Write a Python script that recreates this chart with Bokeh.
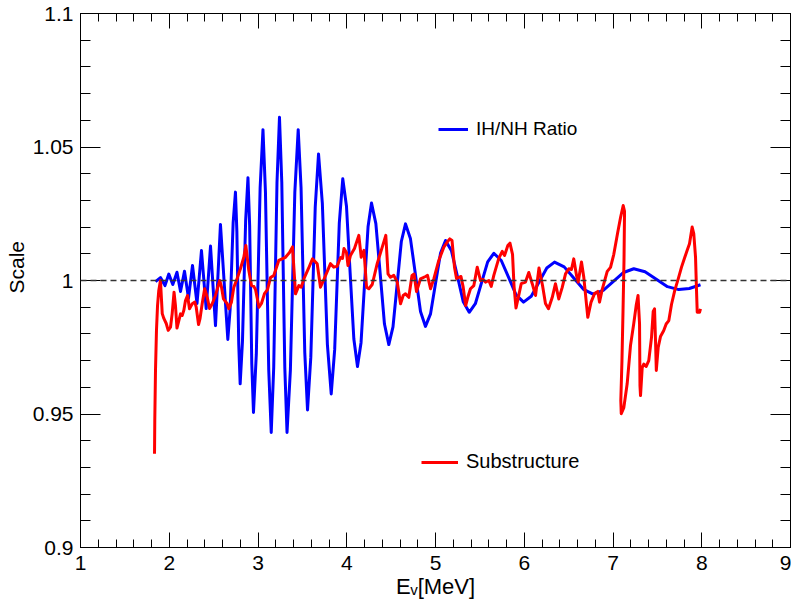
from bokeh.plotting import figure
from bokeh.models import FixedTicker, LinearAxis, Legend, LegendItem, Span, Range1d, Title
from bokeh.embed import file_html
from bokeh.resources import INLINE

# ---------------- data ----------------
blue_E = [1.845, 1.901, 1.952, 1.995, 2.040, 2.087, 2.127, 2.172, 2.217, 2.262,
          2.313, 2.363, 2.416, 2.465, 2.521, 2.577, 2.660, 2.686, 2.720, 2.746,
          2.762, 2.783, 2.799, 2.825, 2.861, 2.887, 2.906, 2.930, 2.949, 2.981,
          3.024, 3.056, 3.084, 3.121, 3.149, 3.177, 3.214, 3.242, 3.268, 3.302,
          3.327, 3.365, 3.415, 3.453, 3.485, 3.527, 3.558, 3.595, 3.645, 3.682,
          3.725, 3.782, 3.825, 3.864, 3.916, 3.955,
          3.997, 4.038, 4.080, 4.121, 4.161, 4.200, 4.240, 4.279, 4.328, 4.377,
          4.425, 4.474, 4.521, 4.568, 4.615, 4.662, 4.718, 4.775, 4.831, 4.887,
          4.944, 5.000, 5.057, 5.113, 5.180, 5.247, 5.313, 5.380, 5.449, 5.519,
          5.588, 5.657, 5.741, 5.825, 5.908, 5.992, 6.079, 6.167, 6.254, 6.341,
          6.450, 6.558, 6.667, 6.775, 6.890, 7.005, 7.119, 7.234, 7.361, 7.488,
          7.614, 7.741, 7.860, 7.986]
blue_ratio = [0.9996, 1.0011, 0.9981, 1.0024, 0.9985, 1.0031, 0.9959, 1.0035, 0.9933, 1.0056,
              0.9914, 1.0112, 0.9895, 1.0129, 0.9831, 1.0210, 0.9779, 0.9893, 1.0217, 1.0331,
              1.0183, 0.9761, 0.9613, 0.9772, 1.0226, 1.0385, 1.0204, 0.9687, 0.9506, 0.9724,
              1.0347, 1.0565, 1.0331, 0.9665, 0.9431, 0.9674, 1.0368, 1.0611, 1.0368, 0.9674,
              0.9431, 0.9665, 1.0331, 1.0565, 1.0349, 0.9731, 0.9515, 0.9713, 1.0276, 1.0474,
              1.0289, 0.9760, 0.9575, 0.9741, 1.0215, 1.0381,
              1.0278, 1.0030, 0.9781, 0.9678, 0.9767, 0.9984, 1.0201, 1.0290, 1.0213, 1.0025,
              0.9837, 0.9760, 0.9826, 0.9986, 1.0146, 1.0212, 1.0156, 1.0020, 0.9884, 0.9828,
              0.9875, 0.9989, 1.0103, 1.0150, 1.0111, 1.0016, 0.9920, 0.9881, 0.9913, 0.9992,
              1.0070, 1.0102, 1.0075, 1.0011, 0.9946, 0.9919, 0.9941, 0.9994, 1.0047, 1.0069,
              1.0051, 1.0009, 0.9967, 0.9949, 0.9963, 0.9997, 1.0030, 1.0044, 1.0033, 1.0005,
              0.9977, 0.9966, 0.9970, 0.9984]

red_E = [1.834, 1.837, 1.845, 1.856, 1.868, 1.882, 1.901, 1.921, 1.939, 1.966,
         1.988, 2.014, 2.033, 2.054, 2.070, 2.087, 2.108, 2.127, 2.146, 2.164,
         2.183, 2.206, 2.228, 2.259, 2.288, 2.304, 2.330, 2.346, 2.371, 2.399,
         2.428, 2.454, 2.484, 2.521, 2.569, 2.589, 2.611, 2.653, 2.671, 2.701,
         2.727, 2.766, 2.803, 2.840, 2.863, 2.896, 2.927, 2.953, 2.972, 3.011,
         3.039, 3.073, 3.107, 3.141, 3.178, 3.234, 3.310, 3.355, 3.389, 3.423,
         3.460, 3.487, 3.524, 3.569, 3.614, 3.667, 3.704, 3.738, 3.817, 3.854,
         3.890, 3.930, 3.952, 3.969, 3.997, 4.014, 4.042, 4.087, 4.136, 4.163,
         4.194, 4.223, 4.249, 4.287, 4.343, 4.399, 4.440, 4.465, 4.493, 4.530,
         4.569, 4.606, 4.636, 4.662, 4.699, 4.735, 4.758, 4.786, 4.831, 4.887,
         4.910, 4.944, 4.981, 5.037, 5.094, 5.132, 5.161, 5.186, 5.214, 5.237,
         5.263, 5.287, 5.312, 5.340, 5.364, 5.394, 5.432, 5.470, 5.507, 5.535,
         5.563, 5.601, 5.628, 5.657, 5.713, 5.752, 5.778, 5.815, 5.839, 5.868,
         5.885, 5.907, 5.933, 5.966, 6.014, 6.051, 6.090, 6.127, 6.166, 6.206,
         6.239, 6.273, 6.315, 6.352, 6.389, 6.428, 6.465, 6.502, 6.532, 6.558,
         6.589, 6.608, 6.645, 6.671, 6.716, 6.752, 6.792, 6.829, 6.848, 6.878,
         6.935, 6.972, 7.009, 7.051, 7.085, 7.115, 7.130, 7.124, 7.113, 7.101,
         7.088, 7.093, 7.122, 7.160, 7.197, 7.234, 7.261, 7.282, 7.299, 7.304,
         7.310, 7.329, 7.347, 7.374, 7.403, 7.434, 7.453, 7.468, 7.479, 7.488,
         7.509, 7.535, 7.572, 7.599, 7.629, 7.659, 7.696, 7.735, 7.772, 7.809,
         7.836, 7.862, 7.892, 7.910, 7.930, 7.941, 7.949, 7.975, 7.986]
red_scale = [0.9351, 0.9475, 0.9663, 0.9813, 0.9906, 0.9963, 1.0000, 0.9876, 0.9858, 0.9839,
             0.9813, 0.9825, 0.9876, 0.9956, 0.9906, 0.9822, 0.9850, 0.9875, 0.9869, 0.9888,
             0.9925, 0.9944, 0.9894, 0.9913, 0.9919, 0.9900, 0.9835, 0.9856, 0.9913, 0.9969,
             0.9937, 0.9895, 0.9913, 0.9944, 1.0000, 0.9975, 0.9931, 0.9913, 0.9894, 0.9919,
             0.9974, 1.0008, 1.0045, 1.0087, 1.0131, 1.0038, 0.9981, 0.9978, 0.9966, 0.9900,
             0.9914, 0.9951, 0.9966, 1.0011, 1.0019, 1.0075, 1.0087, 1.0105, 1.0126, 0.9950,
             0.9981, 0.9975, 1.0012, 1.0045, 1.0081, 1.0063, 0.9975, 1.0000, 1.0063, 1.0050,
             1.0053, 1.0086, 1.0083, 1.0120, 1.0105, 1.0056, 1.0094, 1.0120, 1.0169, 1.0087,
             1.0113, 0.9975, 0.9969, 0.9985, 1.0063, 1.0124, 1.0169, 1.0025, 1.0012, 1.0019,
             0.9994, 0.9913, 0.9944, 0.9950, 0.9937, 1.0019, 1.0024, 0.9959, 1.0006, 1.0015,
             1.0019, 0.9969, 1.0006, 1.0075, 1.0125, 1.0144, 1.0156, 1.0150, 1.0050, 1.0008,
             1.0012, 1.0015, 0.9975, 0.9906, 0.9937, 0.9969, 0.9981, 1.0050, 1.0000, 1.0004,
             0.9994, 1.0000, 0.9978, 1.0019, 1.0083, 1.0109, 1.0094, 1.0131, 1.0140, 1.0098,
             0.9978, 0.9897, 0.9937, 0.9988, 0.9994, 1.0030, 0.9988, 0.9944, 1.0047, 0.9981,
             0.9914, 0.9894, 0.9936, 0.9988, 0.9931, 0.9974, 1.0025, 1.0044, 1.0041, 1.0081,
             1.0019, 0.9994, 1.0069, 1.0012, 0.9862, 0.9918, 0.9951, 0.9959, 0.9919, 0.9966,
             1.0034, 1.0049, 1.0098, 1.0176, 1.0236, 1.0281, 1.0259, 1.0075, 0.9888, 0.9700,
             0.9550, 0.9501, 0.9524, 0.9614, 0.9756, 0.9839, 0.9906, 0.9944, 0.9839, 0.9606,
             0.9569, 0.9674, 0.9687, 0.9678, 0.9700, 0.9787, 0.9884, 0.9894, 0.9775, 0.9663,
             0.9749, 0.9790, 0.9813, 0.9837, 0.9850, 0.9910, 0.9963, 1.0006, 1.0050, 1.0087,
             1.0113, 1.0138, 1.0200, 1.0176, 1.0087, 0.9963, 0.9881, 0.9881, 0.9894]

series_names = ["IH/NH Ratio", "Substructure"]
x_ticks = [1, 2, 3, 4, 5, 6, 7, 8, 9]
x_tick_labels = ["1", "2", "3", "4", "5", "6", "7", "8", "9"]
y_ticks = [0.9, 0.95, 1.0, 1.05, 1.1]
y_tick_labels = ["0.9", "0.95", "1", "1.05", "1.1"]
x_title = "E\u1d65[MeV]"
y_title = "Scale"
ref_level = 1.0

FONT = "Liberation Sans"

# ---------------- figure ----------------
p = figure(width=791, height=602, output_backend="svg", toolbar_location=None,
           x_range=Range1d(1, 9), y_range=Range1d(0.9, 1.1),
           min_border_left=80, min_border_right=1, min_border_top=13, min_border_bottom=55)
p.grid.visible = False
p.outline_line_color = "black"
p.outline_line_width = 1
p.background_fill_color = "white"
p.border_fill_color = "white"

x_minor = [1 + 0.2 * i for i in range(41)]
y_minor = [0.9 + 0.01 * i for i in range(21)]
xt = FixedTicker(ticks=x_ticks, minor_ticks=x_minor)
yt = FixedTicker(ticks=y_ticks, minor_ticks=y_minor)


def style_axis(ax, ticker, major_in, minor_in, overrides=None, show_labels=True):
    ax.ticker = ticker
    ax.major_tick_in = major_in
    ax.major_tick_out = 0
    ax.minor_tick_in = minor_in
    ax.minor_tick_out = 0
    ax.axis_line_color = "black"
    ax.major_tick_line_color = "black"
    ax.minor_tick_line_color = "black"
    ax.major_tick_line_width = 1
    ax.minor_tick_line_width = 1
    if show_labels:
        ax.major_label_overrides = overrides
        ax.major_label_text_font = FONT
        ax.major_label_text_font_size = "21px"
        ax.major_label_text_color = "black"
    else:
        ax.major_label_text_font_size = "1px"
        ax.major_label_text_color = None
        ax.major_label_standoff = 0


xa = p.xaxis[0]
style_axis(xa, xt, 15, 8, dict(zip(x_ticks, x_tick_labels)))
xa.major_label_standoff = 8
xa.axis_label = x_title
xa.axis_label_text_font = FONT
xa.axis_label_text_font_size = "22px"
xa.axis_label_text_font_style = "normal"
xa.axis_label_text_color = "black"
xa.axis_label_standoff = 1

ya = p.yaxis[0]
style_axis(ya, yt, 20, 10, dict(zip(y_ticks, y_tick_labels)))
ya.major_label_standoff = 7

# y-axis title placed as a side title so it can sit slightly above centre, as in the reference
p.add_layout(Title(text=y_title, align="left", offset=254, standoff=3,
                   text_font=FONT, text_font_size="21px", text_font_style="normal",
                   text_color="black"), "left")

top = LinearAxis()
style_axis(top, xt, 15, 8, show_labels=False)
p.add_layout(top, "above")
right = LinearAxis()
style_axis(right, yt, 20, 10, show_labels=False)
p.add_layout(right, "right")

# ---------------- curves ----------------
r_blue = p.line(blue_E, blue_ratio, line_color="#0000ff", line_width=3, line_join="round")
r_red = p.line(red_E, red_scale, line_color="#ff0000", line_width=3, line_join="round")

p.add_layout(Span(location=ref_level, dimension="width", line_color="#333333",
                  line_width=1.5, line_dash="6 4"))

# ---------------- legends ----------------
def make_legend(name, rend, loc, gw, fs):
    lg = Legend(items=[LegendItem(label=name, renderers=[rend])], location=loc,
                border_line_alpha=0, background_fill_alpha=0, padding=0, margin=0,
                spacing=0, glyph_width=gw, glyph_height=20, label_height=20,
                label_standoff=8, label_text_font=FONT, label_text_font_size=fs,
                label_text_color="black")
    p.add_layout(lg)

make_legend(series_names[0], r_blue, (358, 407), 30, "19px")
make_legend(series_names[1], r_red, (341, 74), 37, "20px")

open("out.html", "w").write(file_html(p, INLINE))
